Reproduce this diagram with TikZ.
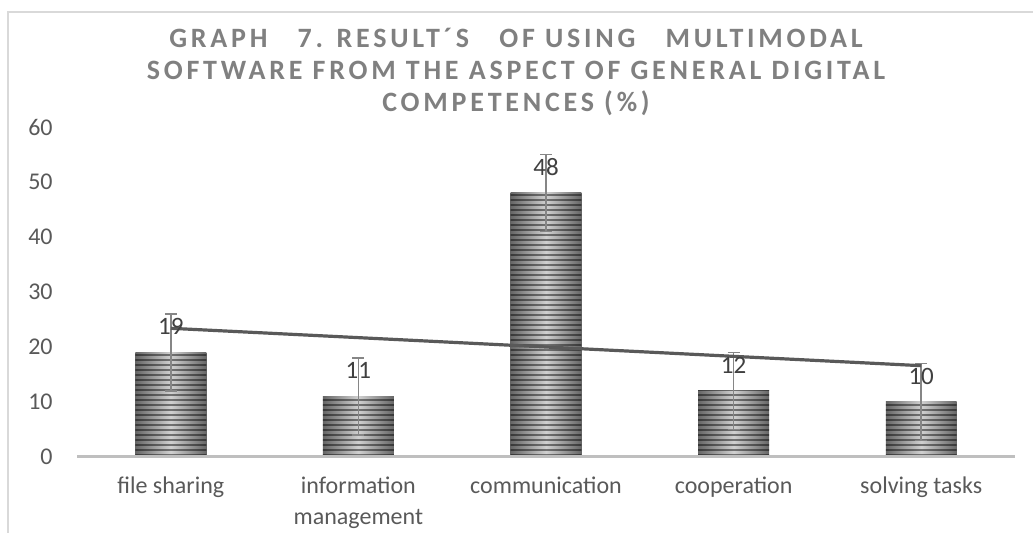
\documentclass[tikz,border=0pt]{standalone}
\usepackage{fontspec}
\setmainfont{Carlito}
\newfontfamily\titlefont{Carlito Bold}[LetterSpace=13.5]
\usetikzlibrary{positioning}
\definecolor{framegray}{HTML}{D9D9D9}
\definecolor{axisgray}{HTML}{BFBFBF}
\definecolor{labelgray}{HTML}{595959}
\definecolor{valuegray}{HTML}{404040}
\definecolor{titlegray}{HTML}{808080}
\definecolor{errgray}{HTML}{868686}
\definecolor{bardark}{HTML}{666666}
\definecolor{barlight}{HTML}{D0D0D0}

\begin{document}
\begin{tikzpicture}[x=0.5pt,y=0.5pt]
    \tikzstyle{every node}=[font=\fontsize{12}{15.5}\selectfont, text=labelgray, inner sep=0pt]
    \tikzstyle{ticklabel} = [anchor=east]
    \tikzstyle{catlabel} = [align=center, anchor=base]
    \tikzstyle{valuelabel} = [text=valuegray, font=\fontsize{12.5}{14}\selectfont]
    \tikzstyle{errbar} = [errgray, line width=0.8pt]
    \tikzstyle{trend} = [labelgray, line width=1.6pt]

    \useasboundingbox (0,0) rectangle (1033,533);

    % chart frame
    \draw[framegray, line width=1pt] (8,0) -- (8,521) -- (1033,521);

    \node[text=titlegray, align=center, anchor=north,
          font=\titlefont\fontsize{14}{16}\selectfont] (title) at (516,505)
        {GRAPH\ \hspace{5pt}\ 7. RESULT´S\ \hspace{5pt}\ OF USING\ \hspace{5pt}\ MULTIMODAL\\
         SOFTWARE FROM THE ASPECT OF GENERAL DIGITAL\\
         COMPETENCES (\%)};

    \begin{scope}[shift={(77,76)}, x=93.8pt, y=2.75pt]
        % value axis labels
        \foreach \v in {0,10,...,60}
            \node[ticklabel] (tick\v) at (-0.128,\v) {\v};

        % bars
        \foreach \i/\v in {1/19, 2/11, 3/48, 4/12, 5/10} {
            \shade[left color=bardark, right color=bardark, middle color=barlight]
                ({\i-0.689},0) rectangle ({\i-0.311},\v);
            \begin{scope}
                \clip ({\i-0.689},0) rectangle ({\i-0.311},\v);
                \foreach \k in {0,...,55}
                    \draw[black, opacity=0.45, line width=1.1pt] ({\i-0.7},{\k*0.909+0.3}) -- ({\i-0.3},{\k*0.909+0.3});
            \end{scope}
        }

        % error bars
        \foreach \i/\v in {1/19, 2/11, 3/48, 4/12, 5/10} {
            \draw[errbar] ({\i-0.5},{\v-7}) -- ({\i-0.5},{\v+7});
            \draw[errbar] ({\i-0.532},{\v-7}) -- ({\i-0.468},{\v-7});
            \draw[errbar] ({\i-0.532},{\v+7}) -- ({\i-0.468},{\v+7});
        }

        % x axis
        \draw[axisgray, line width=1.5pt] (0,0) -- (5,0);

        % linear trend
        \coordinate (trend1) at (0.5,23.4);
        \coordinate (trend5) at (4.5,16.6);
        \draw[trend] (trend1) -- (trend5);

        % data labels
        \foreach \i/\v in {1/19, 2/11, 3/48, 4/12, 5/10}
            \node[valuelabel] (val\i) at ({\i-0.5},\v) [yshift=13pt] {\v};

        % category labels
        \node[catlabel] (cat1) at (0.5,0) [yshift=-18.5pt] {file sharing};
        \node[catlabel] (cat2) at (1.5,0) [yshift=-34pt] {information\\management};
        \node[catlabel] (cat3) at (2.5,0) [yshift=-18.5pt] {communication};
        \node[catlabel] (cat4) at (3.5,0) [yshift=-18.5pt] {cooperation};
        \node[catlabel] (cat5) at (4.5,0) [yshift=-18.5pt] {solving tasks};
    \end{scope}
\end{tikzpicture}
\end{document}
